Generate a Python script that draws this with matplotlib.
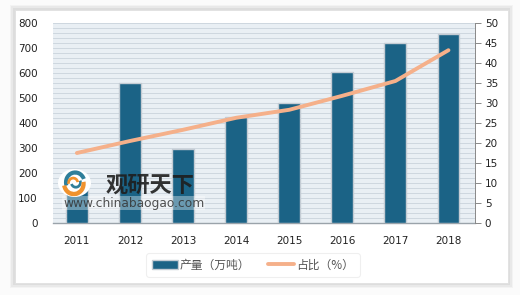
import matplotlib
matplotlib.use("Agg")
import matplotlib.pyplot as plt
from matplotlib.patches import Rectangle, Wedge, Ellipse
import numpy as np

plt.rcParams['font.family'] = ['Noto Sans CJK SC', 'DejaVu Sans']

years = ['2011', '2012', '2013', '2014', '2015', '2016', '2017', '2018']
output = [160, 560, 298, 425, 480, 603, 720, 758]
share = [17.5, 20.5, 23.3, 26.3, 28.3, 31.8, 35.5, 43.2]
left_ticks = [0, 100, 200, 300, 400, 500, 600, 700, 800]
right_ticks = [0, 5, 10, 15, 20, 25, 30, 35, 40, 45, 50]
bar_label = '产量（万吨）'
line_label = '占比（%）'

fig = plt.figure(figsize=(5.2, 2.95), dpi=100)
fig.patch.set_facecolor('#fbfbfb')

# outer white panel with soft shadow
px, py, pw, ph = 15/520, 1 - 283/295, 493/520, 273/295
for i, a in enumerate([0.03, 0.04, 0.05]):
    d = (3 - i) * 0.0035
    fig.patches.append(Rectangle((px - d, py - d*1.7), pw + 2*d, ph + 2*d*1.7,
                                 transform=fig.transFigure, facecolor='black', alpha=a,
                                 edgecolor='none', zorder=-3))
fig.patches.append(Rectangle((px, py), pw, ph, transform=fig.transFigure,
                             facecolor='white', edgecolor='#e0e0e0', lw=0.6, zorder=-2))

ax = fig.add_axes([53/520, 1 - 223/295, 422/520, 200/295])
ax.set_facecolor('#e9eff4')
x = np.arange(len(years))
ax.set_ylim(0, 800)
ax.set_xlim(-0.45, 7.5)
ax.set_yticks(np.arange(0, 801, 20), minor=True)
ax.grid(True, which='minor', axis='y', color='#c9d3dc', lw=0.6)
ax.grid(True, which='major', axis='y', color='#c9d3dc', lw=0.6)
ax.set_axisbelow(True)
bars = ax.bar(x, output, width=0.41, color='#1b6386', edgecolor='#c4ccd4', lw=1.0,
              label=bar_label, zorder=3)
ax.set_yticks(left_ticks)
ax.set_xticks(x)
ax.set_xticklabels(years)
ax.tick_params(axis='both', which='both', length=0, labelsize=7.5, colors='#222222')
ax.tick_params(axis='x', pad=9)
ax.tick_params(axis='y', pad=11)
for lab in ax.get_xticklabels() + ax.get_yticklabels():
    lab.set_family('DejaVu Sans')
for s in ['top', 'left', 'right']:
    ax.spines[s].set_visible(False)
ax.spines['bottom'].set_color('#9aa3aa')
ax.spines['bottom'].set_linewidth(1.0)

ax2 = ax.twinx()
ln, = ax2.plot(x, share, color='#f5b08a', lw=2.8, label=line_label, zorder=4,
               solid_capstyle='round')
ax2.set_ylim(0, 50)
ax2.set_yticks(right_ticks)
ax2.tick_params(axis='y', length=4, width=0.7, labelsize=7.5, pad=3,
                color='#888888', labelcolor='#222222')
for lab in ax2.get_yticklabels():
    lab.set_family('DejaVu Sans')
for s in ['top', 'left', 'bottom']:
    ax2.spines[s].set_visible(False)
ax2.spines['right'].set_color('#888888')
ax2.spines['right'].set_linewidth(0.7)

# watermark logo
lax = fig.add_axes([58/520, 1 - 197/295, 33/520, 28/295], zorder=9)
lax.set_xlim(-1.25, 1.25)
lax.set_ylim(-1.0, 1.0)
lax.axis('off')
lax.add_patch(Ellipse((0, 0), 2.5, 2.0, facecolor='white', alpha=1.0, edgecolor='none'))
lax.add_patch(Wedge((0.05, 0.05), 0.85, 20, 200, width=0.3, facecolor='#2f7f9a'))
lax.add_patch(Wedge((0.1, 0.05), 0.45, 200, 380, width=0.2, facecolor='#2f7f9a'))
lax.add_patch(Wedge((-0.05, -0.05), 0.9, 190, 370, width=0.32, facecolor='#f0922e'))
lax.add_patch(Wedge((-0.1, 0.0), 0.45, 10, 190, width=0.2, facecolor='#f0922e'))

fig.text(106/520, 1 - 185/295, '观研天下', fontsize=16, fontweight='bold', color='#1e1e1e',
         alpha=0.9, va='center', ha='left', zorder=10)
fig.text(63/520, 1 - 203/295, 'www.chinabaogao.com', fontsize=8.8, color='#333333',
         alpha=0.85, va='center', ha='left', zorder=10, family='DejaVu Sans',
         bbox=dict(facecolor='white', alpha=0.35, edgecolor='none', pad=0.5))

leg = fig.legend(handles=[bars, ln], labels=[bar_label, line_label], loc='center',
                 bbox_to_anchor=(253/520, 1 - 265/295), ncol=2, frameon=True,
                 fontsize=8.5, handlelength=2.2, columnspacing=1.5, handletextpad=0.2,
                 borderpad=0.45)
leg.get_frame().set_edgecolor('#ececec')
leg.get_frame().set_linewidth(0.8)
for t in leg.get_texts():
    t.set_color('#555555')

fig.savefig('out.png', dpi=100, facecolor=fig.get_facecolor())
